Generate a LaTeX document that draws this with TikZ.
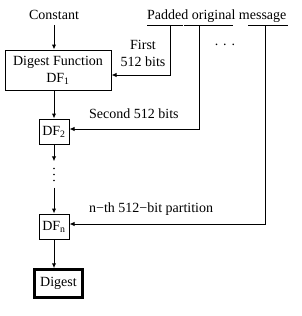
\documentclass[tikz,border=0pt]{standalone}
\usepackage{fontspec}
\setmainfont{Liberation Serif}
\usetikzlibrary{arrows.meta}
\begin{document}
\begin{tikzpicture}[x=1pt,y=-1pt,
  every node/.style={font=\fontsize{14}{17}\selectfont, inner sep=0pt},
  box/.style={draw, line width=1pt, align=center},
  arr/.style={line width=1pt, -{Latex[length=5pt,width=4.5pt]}},
  ln/.style={line width=1pt}]
\useasboundingbox (0,0) rectangle (301,316);
% top texts
\node (const) at (54,15) {Constant};
\node[anchor=base west] (msg) at (147,19.5) {Padded original message};
\draw[ln] (147,25) -- (182.7,25);
\draw[ln] (183.5,25) -- (233,25);
\draw[ln] (248,25) -- (288,25);
\coordinate (p1) at (170,25);
\coordinate (p2) at (199.5,25);
\coordinate (p3) at (265,25);
% boxes
\node[box, minimum width=106pt, minimum height=40pt] (df1) at (58,70) {Digest Function\\DF\textsubscript{1}};
\node[box, minimum width=30pt, minimum height=25pt] (df2) at (54,131.5) {DF\textsubscript{2}};
\node[minimum width=4pt, minimum height=26pt] (dots) at (54,174.5) {};
\node[box, minimum width=30pt, minimum height=25pt] (dfn) at (54,226.5) {DF\textsubscript{n}};
\node[draw, line width=2.5pt, minimum width=48pt, minimum height=28pt] (dig) at (58.5,283.5) {Digest};
% dots
\fill (dots.center) ++(0,-6) circle (0.9pt);
\fill (dots.center) circle (0.9pt);
\fill (dots.center) ++(0,6) circle (0.9pt);
% labels
\node[align=center] (first) at (143,53.5) {First\\512 bits};
\node (more) at (225,45) {.\hspace{5pt}.\hspace{5pt}.};
\node[anchor=west] (sec) at (89,114) {Second 512 bits};
\node[anchor=west] (nth) at (89,209) {n−th 512−bit partition};
% arrows
\draw[arr] ([yshift=-5pt]const.south) -- (const.south |- df1.north);
\draw[arr] (df1.south -| df2) -- (df2.north);
\draw[arr] (df2.south) -- (dots.north);
\draw[arr] (dots.south) -- (dfn.north);
\draw[arr] (dfn.south) -- (dfn.south |- dig.north);
\draw[arr] (p1) |- ([yshift=-5pt]df1.east);
\draw[arr] (p2) |- ([yshift=2.5pt]df2.east);
\draw[arr] (p3) |- ([yshift=2.5pt]dfn.east);
\end{tikzpicture}
\end{document}
